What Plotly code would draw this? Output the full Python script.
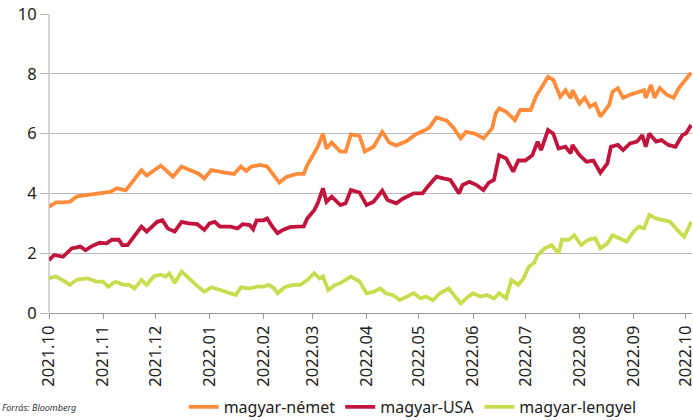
import plotly.graph_objects as go

nemet_dates = ["2021-10-01","2021-10-05","2021-10-09","2021-10-13","2021-10-17","2021-10-28","2021-11-05","2021-11-09",
"2021-11-14","2021-11-18","2021-11-23","2021-11-26","2021-12-04","2021-12-07","2021-12-11","2021-12-16","2021-12-21",
"2021-12-26","2021-12-29","2022-01-02","2022-01-09","2022-01-15","2022-01-19","2022-01-22","2022-01-25","2022-01-30",
"2022-02-03","2022-02-07","2022-02-10","2022-02-14","2022-02-20","2022-02-24","2022-02-26","2022-03-02","2022-03-04",
"2022-03-07","2022-03-09","2022-03-12","2022-03-17","2022-03-20","2022-03-23","2022-03-28","2022-03-31","2022-04-05",
"2022-04-10","2022-04-14","2022-04-18","2022-04-24","2022-04-29","2022-05-04","2022-05-07","2022-05-11","2022-05-17",
"2022-05-21","2022-05-25","2022-05-28","2022-06-02","2022-06-07","2022-06-12","2022-06-14","2022-06-16","2022-06-20",
"2022-06-25","2022-06-28","2022-07-04","2022-07-07","2022-07-10","2022-07-14","2022-07-17","2022-07-21","2022-07-24",
"2022-07-27","2022-07-28","2022-08-01","2022-08-04","2022-08-07","2022-08-10","2022-08-13","2022-08-18","2022-08-20",
"2022-08-23","2022-08-26","2022-08-30","2022-09-03","2022-09-07","2022-09-08","2022-09-11","2022-09-13","2022-09-16",
"2022-09-20","2022-09-24","2022-09-27","2022-09-30","2022-10-04"]
nemet_values = [3.55,3.7,3.7,3.72,3.9,4.0,4.05,4.17,4.1,4.4,4.78,4.6,4.93,4.78,4.56,4.9,4.78,4.65,4.5,4.78,4.7,4.65,
4.9,4.75,4.9,4.95,4.9,4.6,4.36,4.55,4.65,4.65,4.95,5.35,5.56,6.0,5.5,5.7,5.4,5.4,5.97,5.92,5.4,5.56,6.06,5.7,5.6,
5.75,5.97,6.1,6.2,6.54,6.43,6.18,5.84,6.06,6.0,5.84,6.18,6.68,6.84,6.73,6.45,6.79,6.79,7.23,7.52,7.9,7.8,7.23,7.45,
7.18,7.45,7.0,7.2,6.9,7.0,6.57,6.96,7.4,7.52,7.2,7.3,7.37,7.45,7.2,7.63,7.2,7.52,7.3,7.2,7.52,7.75,8.04]

usa_dates = ["2021-10-01","2021-10-04","2021-10-09","2021-10-14","2021-10-19","2021-10-22","2021-10-25","2021-10-30",
"2021-11-03","2021-11-06","2021-11-10","2021-11-12","2021-11-15","2021-11-19","2021-11-23","2021-11-26","2021-12-02",
"2021-12-05","2021-12-08","2021-12-12","2021-12-16","2021-12-20","2021-12-25","2021-12-29","2022-01-01","2022-01-04",
"2022-01-07","2022-01-13","2022-01-17","2022-01-20","2022-01-24","2022-01-26","2022-01-28","2022-02-01","2022-02-03",
"2022-02-06","2022-02-09","2022-02-12","2022-02-16","2022-02-20","2022-02-24","2022-02-26","2022-03-02","2022-03-04",
"2022-03-07","2022-03-09","2022-03-12","2022-03-17","2022-03-20","2022-03-23","2022-03-28","2022-04-01","2022-04-05",
"2022-04-10","2022-04-13","2022-04-18","2022-04-22","2022-04-28","2022-05-03","2022-05-06","2022-05-11","2022-05-15",
"2022-05-19","2022-05-24","2022-05-26","2022-05-30","2022-06-03","2022-06-07","2022-06-10","2022-06-13","2022-06-16",
"2022-06-20","2022-06-24","2022-06-27","2022-07-01","2022-07-05","2022-07-08","2022-07-10","2022-07-14","2022-07-17",
"2022-07-20","2022-07-24","2022-07-27","2022-07-28","2022-08-01","2022-08-05","2022-08-09","2022-08-13","2022-08-17",
"2022-08-19","2022-08-23","2022-08-26","2022-08-30","2022-09-03","2022-09-06","2022-09-08","2022-09-10","2022-09-14",
"2022-09-17","2022-09-21","2022-09-25","2022-09-29","2022-10-01","2022-10-04"]
usa_values = [1.77,1.94,1.88,2.16,2.22,2.1,2.22,2.35,2.33,2.45,2.45,2.27,2.27,2.6,2.89,2.72,3.05,3.1,2.83,2.72,3.05,
3.0,2.97,2.78,3.0,3.05,2.89,2.89,2.83,2.97,2.94,2.8,3.1,3.1,3.16,2.89,2.67,2.78,2.87,2.89,2.9,3.16,3.44,3.67,4.17,
3.72,3.89,3.61,3.67,4.11,4.03,3.61,3.72,4.09,3.78,3.67,3.83,4.0,4.0,4.22,4.56,4.5,4.45,4.0,4.28,4.39,4.28,4.11,4.36,
4.45,5.28,5.17,4.73,5.1,5.1,5.28,5.73,5.45,6.12,6.0,5.5,5.56,5.34,5.62,5.28,5.06,5.1,4.69,5.0,5.56,5.62,5.45,5.67,
5.73,5.95,5.56,6.0,5.73,5.78,5.62,5.56,5.95,6.0,6.29]

lengyel_dates = ["2021-10-01","2021-10-05","2021-10-09","2021-10-13","2021-10-17","2021-10-23","2021-10-28","2021-11-01",
"2021-11-04","2021-11-08","2021-11-13","2021-11-16","2021-11-19","2021-11-23","2021-11-26","2021-11-30","2021-12-04",
"2021-12-07","2021-12-09","2021-12-12","2021-12-16","2021-12-20","2021-12-25","2021-12-29","2022-01-02","2022-01-07",
"2022-01-12","2022-01-16","2022-01-19","2022-01-24","2022-01-28","2022-02-01","2022-02-04","2022-02-07","2022-02-09",
"2022-02-13","2022-02-18","2022-02-22","2022-02-26","2022-03-02","2022-03-05","2022-03-07","2022-03-10","2022-03-14",
"2022-03-17","2022-03-20","2022-03-23","2022-03-28","2022-04-01","2022-04-05","2022-04-09","2022-04-12","2022-04-16",
"2022-04-20","2022-04-24","2022-04-28","2022-05-02","2022-05-05","2022-05-09","2022-05-13","2022-05-18","2022-05-22",
"2022-05-25","2022-05-28","2022-06-01","2022-06-05","2022-06-09","2022-06-13","2022-06-16","2022-06-20","2022-06-23",
"2022-06-27","2022-06-30","2022-07-03","2022-07-06","2022-07-08","2022-07-12","2022-07-16","2022-07-20","2022-07-22",
"2022-07-26","2022-07-29","2022-08-02","2022-08-06","2022-08-10","2022-08-13","2022-08-17","2022-08-20","2022-08-24",
"2022-08-28","2022-09-01","2022-09-04","2022-09-07","2022-09-10","2022-09-14","2022-09-18","2022-09-22","2022-09-26",
"2022-09-30","2022-10-02","2022-10-04"]
lengyel_values = [1.16,1.22,1.09,0.94,1.12,1.16,1.05,1.05,0.88,1.05,0.94,0.94,0.82,1.1,0.94,1.22,1.28,1.22,1.33,1.0,
1.39,1.16,0.9,0.71,0.86,0.77,0.66,0.6,0.86,0.82,0.88,0.88,0.94,0.82,0.66,0.86,0.94,0.94,1.1,1.33,1.16,1.22,0.77,0.94,
1.0,1.1,1.22,1.05,0.66,0.71,0.82,0.66,0.6,0.43,0.55,0.66,0.49,0.55,0.43,0.66,0.82,0.55,0.32,0.49,0.66,0.55,0.6,0.49,
0.66,0.49,1.1,0.94,1.16,1.55,1.67,1.94,2.16,2.27,2.0,2.45,2.45,2.6,2.27,2.45,2.5,2.16,2.33,2.6,2.5,2.39,2.72,2.89,
2.83,3.28,3.16,3.1,3.05,2.78,2.55,2.78,3.05]

series_names = ["magyar-német", "magyar-USA", "magyar-lengyel"]
series_colors = ["#FF8C3A", "#C0143C", "#C8DC50"]

y_ticks = [0, 2, 4, 6, 8, 10]

FONT = "Noto Sans"

fig = go.Figure()
for name, color, xs, ys in zip(series_names, series_colors,
                               [nemet_dates, usa_dates, lengyel_dates],
                               [nemet_values, usa_values, lengyel_values]):
    fig.add_trace(go.Scatter(x=xs, y=ys, mode="lines", name=name,
                             line=dict(color=color, width=3.8)))

fig.update_layout(
    width=693, height=420,
    margin=dict(l=49, r=1, t=14, b=107, autoexpand=False),
    paper_bgcolor="white", plot_bgcolor="white",
    font=dict(family=FONT, size=16, color="#222222"),
    showlegend=True,
    legend=dict(orientation="h", xref="container", yref="container",
                x=0.265, y=0.031, xanchor="left", yanchor="middle",
                font=dict(size=16, color="#222222"), itemwidth=30,
                tracegroupgap=0, bgcolor="rgba(0,0,0,0)"),
    xaxis=dict(type="date", range=["2021-10-01", "2022-10-04 12:00"],
               dtick="M1", tick0="2021-10-01", tickformat="%Y.%m",
               tickangle=-90, showgrid=False, showline=False, automargin=False,
               ticks="outside", ticklen=5, tickcolor="#999999",
               ticklabeloverflow="allow",
               tickfont=dict(size=16.5, color="#222222"), zeroline=False),
    yaxis=dict(range=[0, 10], tickvals=y_ticks, showgrid=True, automargin=False,
               gridcolor="#BBBBBB", gridwidth=1, showline=False,
               ticks="outside", ticklen=8, tickcolor="#BBBBBB",
               zeroline=True, zerolinecolor="#999999", zerolinewidth=1,
               tickfont=dict(size=16.5, color="#222222")),
    shapes=[dict(type="line", xref="paper", yref="paper", x0=0, x1=0, y0=0, y1=1,
                 line=dict(color="#AAAAAA", width=1), layer="below")],
    annotations=[dict(text="<i>Forrás: Bloomberg</i>", xref="paper", yref="paper",
                      x=-49/643, y=-94/299, xanchor="left", yanchor="middle",
                      showarrow=False, font=dict(size=9, color="#333333"))],
)

fig.write_html("out.html", config={"displayModeBar": False},
               post_script="document.body.style.margin='0';document.body.style.overflow='hidden';")
